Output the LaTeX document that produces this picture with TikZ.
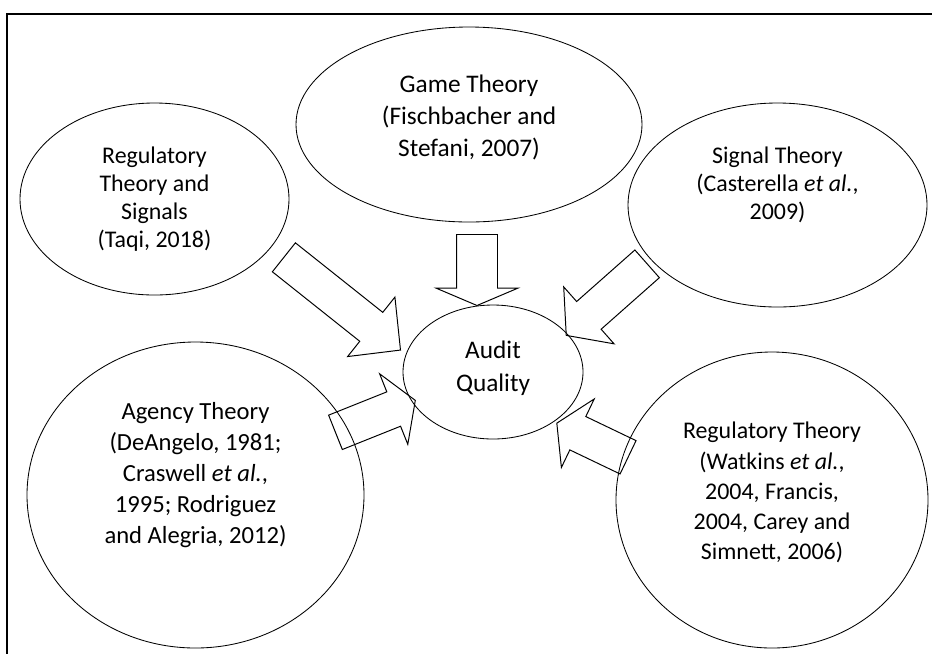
\documentclass[tikz,border=0pt]{standalone}
\usepackage{fontspec}
\setmainfont{Carlito}
\usetikzlibrary{shapes.geometric,shapes.arrows,calc}
\newcommand{\pxu}{0.025cm}
\tikzset{
  theory/.style 2 args={ellipse, draw, line width=0.6pt, inner sep=0pt,
    minimum width=#1*\pxu, minimum height=#2*\pxu},
  theorytext/.style={align=center, inner sep=0pt, font=\fontsize{17}{19.8}\selectfont},
  arrowbody/.style={single arrow, draw, line width=0.7pt, anchor=tail,
    inner xsep=0pt, inner ysep=18*\pxu, single arrow head extend=19.5*\pxu},
}
\begin{document}
\begin{tikzpicture}[x=\pxu, y=-\pxu]
\useasboundingbox (0,0) rectangle (932,654);
\draw[line width=1.1pt] (932,14) -- (7,14) -- (7,654);

% theories
\node[theory={346}{195}] (game) at (469,124.5) {};
\node[theory={269}{192}] (regsig) at (154.5,199) {};
\node[theory={299}{204}] (signal) at (777.5,205) {};
\node[theory={337}{306}] (agency) at (195.5,495) {};
\node[theory={312}{296}] (regul) at (772,500) {};
\node[theory={180}{134}] (audit) at (493,372) {};

\node[theorytext, font=\fontsize{18}{23}\selectfont] (gametxt) at ($(game)+(0,-7)$)
  {Game Theory\\(Fischbacher and\\Stefani, 2007)};
\node[theorytext] (regsigtxt) at (regsig) {Regulatory\\Theory and\\Signals\\(Taqi, 2018)};
\node[theorytext] (signaltxt) at ($(signal)+(0,-20)$)
  {Signal Theory\\(Casterella \textit{et al.},\\2009)};
\node[theorytext, font=\fontsize{17.5}{22}\selectfont] (agencytxt) at ($(agency)+(0,-20)$)
  {Agency Theory\\(DeAngelo, 1981;\\Craswell \textit{et al.},\\1995; Rodriguez\\and Alegria, 2012)};
\node[theorytext, font=\fontsize{17}{21.4}\selectfont] (regultxt) at ($(regul)+(0,-7.5)$)
  {Regulatory Theory\\(Watkins \textit{et al.},\\2004, Francis,\\2004, Carey and\\Simnett, 2006)};
\node[theorytext, font=\fontsize{18}{23.4}\selectfont] (audittxt) at ($(audit)+(0,-3.5)$)
  {Audit\\Quality};

% block arrows into audit quality
\node[arrowbody, inner ysep=20*\pxu, single arrow head extend=20.5*\pxu,
  single arrow tip angle=134, minimum height=71*\pxu, rotate=-90] (gamearr) at ($(game)+(8,109.5)$) {};
\node[arrowbody, single arrow tip angle=91, minimum height=149*\pxu, rotate=-38.5] (regsigarr) at ($(regsig)+(129,58)$) {};
\node[arrowbody, single arrow tip angle=103, minimum height=108*\pxu, rotate=-138.5] (signalarr) at ($(signal)+(-130,58.5)$) {};
\node[arrowbody, single arrow tip angle=117, minimum height=86*\pxu, rotate=21.8] (agencyarr) at ($(agency)+(139.5,-62.5)$) {};
\node[arrowbody, single arrow tip angle=117, minimum height=79*\pxu, rotate=154.4] (regularr) at ($(regul)+(-143.5,-42.5)$) {};
\end{tikzpicture}
\end{document}
